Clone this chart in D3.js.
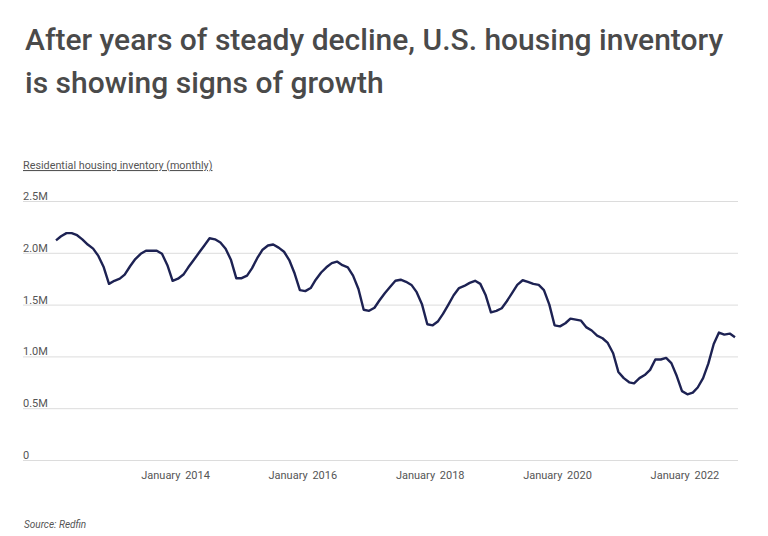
<!DOCTYPE html>
<html>
<head>
<meta charset="utf-8">
<script src="https://cdn.jsdelivr.net/npm/d3@7"></script>
<style>
  body { margin: 0; background: #fff; }
  svg { display: block; font-family: Roboto, "Noto Sans", sans-serif; }
</style>
</head>
<body>
<svg id="chart" width="768" height="536"></svg>
<script>
// Data (millions of homes, monthly from Feb 2012)
const firstMonth = new Date(2012, 1, 1);
const inventory2012 = [2.12, 2.16, 2.19, 2.19, 2.17, 2.13, 2.08, 2.04, 1.97, 1.86, 1.70];
const inventory2013 = [1.73, 1.75, 1.79, 1.87, 1.94, 1.99, 2.02, 2.02, 2.02, 1.99, 1.88, 1.73];
const inventory2014 = [1.75, 1.79, 1.86, 1.93, 2.00, 2.07, 2.14, 2.13, 2.10, 2.04, 1.93, 1.755];
const inventory2015 = [1.755, 1.78, 1.85, 1.95, 2.03, 2.07, 2.08, 2.05, 2.01, 1.93, 1.80, 1.64];
const inventory2016 = [1.63, 1.66, 1.74, 1.81, 1.86, 1.90, 1.915, 1.88, 1.86, 1.78, 1.65, 1.45];
const inventory2017 = [1.44, 1.47, 1.54, 1.61, 1.67, 1.73, 1.74, 1.72, 1.69, 1.62, 1.50, 1.31];
const inventory2018 = [1.30, 1.34, 1.41, 1.50, 1.59, 1.66, 1.68, 1.71, 1.73, 1.70, 1.59, 1.425];
const inventory2019 = [1.44, 1.465, 1.53, 1.61, 1.69, 1.735, 1.72, 1.70, 1.69, 1.64, 1.50, 1.30];
const inventory2020 = [1.29, 1.32, 1.365, 1.355, 1.345, 1.28, 1.25, 1.20, 1.175, 1.13, 1.03, 0.85];
const inventory2021 = [0.79, 0.75, 0.74, 0.79, 0.82, 0.87, 0.97, 0.97, 0.985, 0.935, 0.81, 0.665];
const inventory2022 = [0.634, 0.65, 0.70, 0.79, 0.93, 1.12, 1.23, 1.21, 1.22, 1.185];

const yTickValues = [0, 0.5, 1.0, 1.5, 2.0, 2.5];
const xTickYears = [2014, 2016, 2018, 2020, 2022];

const values = [].concat(inventory2012, inventory2013, inventory2014, inventory2015,
  inventory2016, inventory2017, inventory2018, inventory2019, inventory2020,
  inventory2021, inventory2022);
const data = values.map((v, i) => ({
  date: d3.timeMonth.offset(firstMonth, i),
  value: v
}));

const svg = d3.select("#chart");

// Title
const title = svg.append("text")
  .attr("x", 25)
  .attr("font-size", 30)
  .attr("font-weight", 500)
  .attr("fill", "#4a4a4a");
title.append("tspan").attr("x", 25).attr("y", 50)
  .text("After years of steady decline, U.S. housing inventory");
title.append("tspan").attr("x", 25).attr("y", 93)
  .text("is showing signs of growth");

// Axis title
svg.append("text")
  .attr("x", 23)
  .attr("y", 169)
  .attr("font-size", 10.8)
  .attr("fill", "#555")
  .attr("text-decoration", "underline")
  .text("Residential housing inventory (monthly)");

const x = d3.scaleTime()
  .domain([data[0].date, data[data.length - 1].date])
  .range([56, 735]);

const y = d3.scaleLinear()
  .domain([0, 2.5])
  .range([460, 201]);

// Gridlines + y labels
const yAxis = svg.append("g")
  .attr("transform", "translate(23,0)")
  .call(d3.axisRight(y)
    .tickValues(yTickValues)
    .tickSize(715)
    .tickFormat(d => d === 0 ? "0" : d3.format(".1f")(d) + "M"));
yAxis.select(".domain").remove();
yAxis.selectAll(".tick line").attr("stroke", "#dcdcdc");
yAxis.selectAll(".tick text")
  .attr("x", 0)
  .attr("dy", -1.5)
  .attr("text-anchor", "start")
  .attr("font-size", 11)
  .attr("fill", "#555")
  .attr("font-family", "Roboto, sans-serif");

// X labels
const xAxis = svg.append("g")
  .attr("transform", "translate(0,468)")
  .call(d3.axisBottom(x)
    .tickValues(xTickYears.map(yr => new Date(yr, 0, 1)))
    .tickSize(0)
    .tickFormat(d3.timeFormat("January %Y")));
xAxis.select(".domain").remove();
xAxis.selectAll(".tick text")
  .attr("dx", -3)
  .attr("font-size", 11)
  .attr("fill", "#555")
  .attr("font-family", "Roboto, sans-serif")
  .style("word-spacing", "2px");

// Line
svg.append("path")
  .datum(data)
  .attr("fill", "none")
  .attr("stroke", "#1d2253")
  .attr("stroke-width", 2.4)
  .attr("stroke-linejoin", "round")
  .attr("d", d3.line()
    .x(d => x(d.date))
    .y(d => y(d.value)));

// Source
svg.append("text")
  .attr("x", 24)
  .attr("y", 528)
  .attr("font-size", 10)
  .attr("font-style", "italic")
  .attr("fill", "#555")
  .text("Source: Redfin");
</script>
</body>
</html>
